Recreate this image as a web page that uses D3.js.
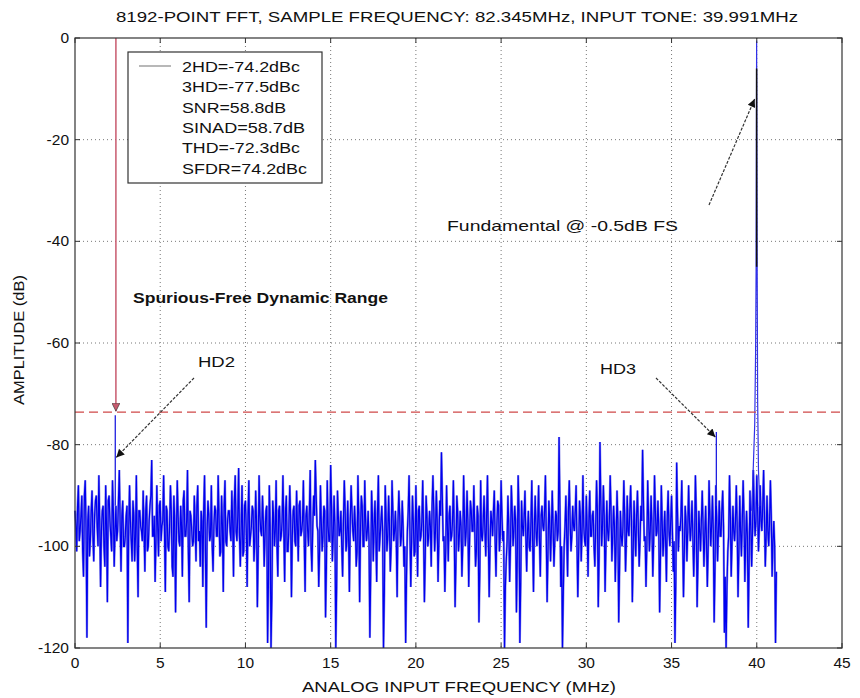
<html>
<head>
  <title>8192-point FFT</title>
  <script src="https://d3js.org/d3.v7.min.js"></script>
  <style>
    body{ margin:0; background:#fff; }
    text{ font-family: "Liberation Sans", Arial, sans-serif; fill:#111; }
    .grid line{ stroke:#777; stroke-dasharray:1,3; }
  </style>
</head>
<body>
<script>
// --- data ---
var xTicks = [0, 5, 10, 15, 20, 25, 30, 35, 40, 45];
var yTicks = [0, -20, -40, -60, -80, -100, -120];

// noise floor, one value every 0.1 MHz from 0.0 to 41.1 MHz (dB)
var noiseStep = 0.1;
var noiseDb = [
  -93,-101,-88,-97,-90,-106,-87,-118,-92,-99,
  -89,-103,-91,-96,-86,-108,-93,-100,-88,-111,
  -90,-98,-87,-104,-92,-97,-85,-105,-91,-100,
  -94,-119,-88,-99,-91,-103,-86,-110,-93,-97,
  -89,-105,-90,-100,-92,-83,-98,-107,-88,-102,
  -91,-96,-86,-109,-93,-101,-88,-104,-90,-113,
  -87,-99,-92,-106,-89,-98,-85,-111,-94,-100,
  -90,-103,-88,-97,-93,-108,-86,-116,-91,-99,
  -88,-105,-92,-98,-86,-102,-90,-109,-87,-100,
  -93,-97,-89,-106,-86,-99,-84.6,-104,-88,-101,
  -91,-108,-87,-98,-92,-103,-89,-112,-86,-97,
  -90,-104,-93,-119,-88,-120,-91,-100,-87,-106,
  -92,-98,-86,-107,-90,-101,-88,-110,-93,-99,
  -89,-103,-91,-97,-87,-109,-92,-100,-85,-105,
  -90,-83,-96,-108,-88,-101,-92,-114,-87,-99,
  -84,-103,-90,-120,-89,-98,-93,-106,-87,-101,
  -91,-109,-88,-97,-92,-104,-86,-111,-90,-100,
  -87,-99,-93,-118,-89,-103,-91,-107,-86,-98,
  -92,-120,-88,-101,-90,-105,-87,-99,-93,-110,
  -89,-100,-91,-104,-119,-97,-86,-108,-90,-102,
  -88,-106,-92,-98,-87,-111,-90,-100,-93,-104,
  -86,-101,-89,-107,-91,-81.5,-99,-109,-88,-103,
  -92,-98,-87,-112,-90,-101,-93,-106,-86,-100,
  -89,-108,-91,-97,-88,-104,-92,-115,-87,-99,
  -90,-102,-86,-110,-93,-98,-89,-106,-91,-101,
  -87,-99,-120,-103,-90,-107,-88,-100,-92,-113,
  -86,-119,-91,-98,-89,-105,-93,-101,-87,-109,
  -90,-100,-88,-106,-92,-97,-86,-111,-91,-103,
  -89,-104,-93,-99,-78.5,-108,-120,-100,-90,-106,
  -87,-101,-92,-97,-88,-110,-91,-103,-86,-99,
  -90,-106,-89,-98,-93,-104,-87,-112,-79.5,-100,
  -88,-109,-91,-99,-86,-103,-92,-107,-89,-115,
  -93,-100,-87,-105,-90,-98,-88,-111,-91,-102,
  -89,-104,-92,-81,-99,-108,-87,-101,-90,-106,
  -86,-98,-91,-113,-88,-102,-93,-107,-89,-100,
  -90,-105,-119,-83.5,-101,-97,-87,-110,-92,-103,
  -88,-99,-91,-106,-86,-112,-93,-101,-89,-104,
  -92,-108,-87,-100,-90,-115,-88,-103,-91,-98,
  -89,-117,-120,-101,-86,-106,-92,-99,-88,-110,
  -90,-102,-87,-107,-93,-116,-89,-104,-85,-98,
  -86,-101,-88,-97,-85,-104,-90,-100,-87,-106,
  -95,-119
];
// the bins in between, at 0.05, 0.15, ... 41.15 MHz (dB)
var noiseMidDb = [
  -96,-92,-99,-94,-101,-90,-97,-95,-102,-93,
  -98,-94,-90,-100,-95,-97,-92,-104,-96,-91,
  -95,-101,-93,-97,-99,-91,-96,-94,-100,-98,
  -92,-97,-95,-103,-94,-98,-100,-93,-96,-99,
  -97,-93,-101,-95,-90,-98,-94,-99,-96,-92,
  -99,-95,-97,-92,-100,-96,-93,-106,-95,-98,
  -94,-100,-96,-91,-98,-95,-101,-93,-97,-99,
  -96,-92,-99,-104,-95,-93,-100,-97,-94,-98,
  -100,-96,-93,-98,-94,-101,-96,-92,-99,-95,
  -93,-99,-95,-91,-97,-94,-98,-96,-102,-92,
  -97,-94,-100,-96,-93,-99,-95,-101,-94,-98,
  -95,-98,-92,-107,-96,-110,-94,-97,-100,-93,
  -99,-95,-97,-93,-101,-96,-94,-98,-92,-100,
  -96,-92,-98,-95,-99,-94,-97,-93,-100,-96,
  -94,-90,-97,-101,-95,-98,-93,-104,-96,-99,
  -92,-98,-96,-108,-94,-97,-100,-95,-93,-99,
  -98,-95,-93,-99,-96,-101,-94,-97,-92,-100,
  -95,-97,-99,-105,-94,-96,-98,-93,-101,-95,
  -97,-109,-94,-98,-96,-100,-93,-97,-99,-95,
  -94,-98,-96,-100,-106,-93,-97,-99,-95,-101,
  -96,-93,-99,-95,-97,-102,-94,-98,-96,-92,
  -93,-97,-95,-99,-94,-90,-98,-101,-96,-94,
  -99,-95,-97,-103,-93,-98,-96,-100,-94,-97,
  -95,-99,-93,-97,-96,-101,-94,-105,-98,-95,
  -97,-94,-98,-100,-95,-93,-99,-96,-92,-98,
  -94,-97,-108,-99,-96,-100,-93,-97,-95,-102,
  -93,-107,-96,-94,-98,-97,-100,-95,-99,-96,
  -97,-95,-99,-94,-96,-93,-98,-101,-95,-97,
  -96,-99,-94,-97,-92,-100,-109,-96,-98,-93,
  -95,-98,-96,-93,-99,-101,-94,-97,-96,-100,
  -97,-95,-98,-94,-100,-96,-93,-102,-91,-96,
  -94,-100,-97,-95,-93,-98,-96,-99,-95,-104,
  -98,-96,-94,-99,-97,-93,-95,-101,-97,-94,
  -96,-99,-95,-91,-98,-100,-94,-97,-96,-99,
  -93,-97,-96,-102,-95,-98,-99,-94,-97,-95,
  -97,-99,-107,-93,-96,-94,-98,-101,-95,-97,
  -95,-96,-98,-99,-93,-103,-97,-95,-96,-98,
  -99,-100,-94,-96,-97,-104,-95,-97,-98,-93,
  -96,-106,-108,-98,-94,-99,-97,-95,-96,-101,
  -97,-95,-94,-99,-98,-103,-96,-97,-93,-95,
  -93,-96,-95,-92,-94,-98,-97,-95,-94,-99,
  -100,-105
];

// harmonics (MHz, dB)
var hdFreq = [2.363, 37.628];
var hdDb = [-74.2, -77.5];

// fundamental and its skirt
var fundFreq = [39.70, 39.80, 39.88, 39.93, 39.96, 39.991, 40.02, 40.05, 40.10, 40.18];
var fundDb = [-93, -84, -76, -62, -46, -0.5, -42, -71, -85, -92];
var fundBlack = [-6, -45];

var sfdrFreq = 2.4;
var sfdrDb = -73.6;

var legendLines = ["2HD=-74.2dBc", "3HD=-77.5dBc", "SNR=58.8dB", "SINAD=58.7dB", "THD=-72.3dBc", "SFDR=74.2dBc"];
var legendWidths = [118, 118, 104, 123, 118, 125];

// --- layout ---
var width = 860, height = 698;
var pL = 75, pR = 842, pT = 38, pB = 648;

var svg = d3.select("body").append("svg")
  .attr("width", width)
  .attr("height", height);

var defs = svg.append("defs");
defs.append("marker").attr("id", "blk")
  .attr("viewBox", "0 0 10 10").attr("refX", 10).attr("refY", 5)
  .attr("markerWidth", 10).attr("markerHeight", 8).attr("markerUnits", "userSpaceOnUse")
  .attr("orient", "auto")
  .append("path").attr("d", "M0,0 L10,5 L0,10 Z").attr("fill", "#111");
defs.append("marker").attr("id", "red")
  .attr("viewBox", "0 0 10 10").attr("refX", 10).attr("refY", 5)
  .attr("markerWidth", 9).attr("markerHeight", 8).attr("markerUnits", "userSpaceOnUse")
  .attr("orient", "auto")
  .append("path").attr("d", "M0,0 L10,5 L0,10 Z").attr("fill", "#c85a6e").attr("stroke", "#333").attr("stroke-width", 0.8);

var x = d3.scaleLinear().domain([0, 45]).range([pL, pR]);
var y = d3.scaleLinear().domain([-120, 0]).range([pB, pT]);

// grid
var grid = svg.append("g").attr("class", "grid");
grid.selectAll(".gx").data(xTicks.slice(1, -1)).enter().append("line")
  .attr("x1", d => x(d)).attr("x2", d => x(d)).attr("y1", pT).attr("y2", pB);
grid.selectAll(".gy").data(yTicks.slice(1, -1)).enter().append("line")
  .attr("x1", pL).attr("x2", pR).attr("y1", d => y(d)).attr("y2", d => y(d));

// noise floor: interleave the two bin sets into one trace
var noise = [];
noiseDb.forEach(function(v, i){
  noise.push([i * noiseStep, v]);
  if (i < noiseMidDb.length) noise.push([i * noiseStep + noiseStep / 2, noiseMidDb[i]]);
});
var line = d3.line().x(d => x(d[0])).y(d => y(d[1]));
svg.append("path").datum(noise)
  .attr("d", line)
  .attr("fill", "none")
  .attr("stroke", "#8a8ae6")
  .attr("stroke-width", 2.2);
svg.append("path").datum(noise)
  .attr("d", line)
  .attr("fill", "none")
  .attr("stroke", "#0000f0")
  .attr("stroke-width", 1.2);

// harmonic spikes
svg.selectAll(".hd").data(hdFreq).enter().append("line")
  .attr("x1", d => x(d)).attr("x2", d => x(d))
  .attr("y1", y(-92)).attr("y2", (d, i) => y(hdDb[i]))
  .attr("stroke", "#2020e0").attr("stroke-width", 1.3);

// fundamental
svg.append("path").datum(fundFreq.map((f, i) => [f, fundDb[i]]))
  .attr("d", line)
  .attr("fill", "none")
  .attr("stroke", "#3030e8")
  .attr("stroke-width", 1.2);
svg.append("line")
  .attr("x1", x(39.991)).attr("x2", x(39.991))
  .attr("y1", y(fundBlack[0])).attr("y2", y(fundBlack[1]))
  .attr("stroke", "#111").attr("stroke-width", 1.5);

// SFDR markers
svg.append("line")
  .attr("x1", pL).attr("x2", pR)
  .attr("y1", y(sfdrDb)).attr("y2", y(sfdrDb))
  .attr("stroke", "#d04848").attr("stroke-width", 1.3)
  .attr("stroke-dasharray", "9,5");
svg.append("line")
  .attr("x1", x(sfdrFreq)).attr("x2", x(sfdrFreq))
  .attr("y1", pT).attr("y2", y(sfdrDb) - 1)
  .attr("stroke", "#c85a6e").attr("stroke-width", 1.5)
  .attr("marker-end", "url(#red)");

// annotation arrows
function arrow(x1, y1, x2, y2){
  svg.append("line")
    .attr("x1", x1).attr("y1", y1).attr("x2", x2).attr("y2", y2)
    .attr("stroke", "#333").attr("stroke-width", 1.2)
    .attr("stroke-dasharray", "3,1.5")
    .attr("marker-end", "url(#blk)");
}
arrow(194, 378, x(2.363) + 1, y(-82.5));
arrow(656, 378, x(37.628) - 1, y(-78.5));
arrow(709, 205, x(39.991) - 2, y(-12));

// box, axes
svg.append("rect")
  .attr("x", pL).attr("y", pT)
  .attr("width", pR - pL).attr("height", pB - pT)
  .attr("fill", "none").attr("stroke", "#333").attr("stroke-width", 1.2);

var ticks = svg.append("g").attr("stroke", "#333");
xTicks.forEach(function(t){
  ticks.append("line").attr("x1", x(t)).attr("x2", x(t)).attr("y1", pB).attr("y2", pB - 5);
  ticks.append("line").attr("x1", x(t)).attr("x2", x(t)).attr("y1", pT).attr("y2", pT + 5);
});
yTicks.forEach(function(t){
  ticks.append("line").attr("x1", pL).attr("x2", pL + 5).attr("y1", y(t)).attr("y2", y(t));
  ticks.append("line").attr("x1", pR).attr("x2", pR - 5).attr("y1", y(t)).attr("y2", y(t));
});

svg.selectAll(".xl").data(xTicks).enter().append("text")
  .attr("x", d => x(d)).attr("y", pB + 20)
  .attr("text-anchor", "middle").attr("font-size", 15.5)
  .text(d => d);
svg.selectAll(".yl").data(yTicks).enter().append("text")
  .attr("x", pL - 6).attr("y", d => y(d) + 5)
  .attr("text-anchor", "end").attr("font-size", 15.5)
  .text(d => d);

// titles
svg.append("text").attr("x", 457).attr("y", 22)
  .attr("text-anchor", "middle").attr("font-size", 15.5)
  .attr("textLength", 682).attr("lengthAdjust", "spacingAndGlyphs")
  .text("8192-POINT FFT, SAMPLE FREQUENCY: 82.345MHz, INPUT TONE: 39.991MHz");
svg.append("text").attr("x", 459).attr("y", 692)
  .attr("text-anchor", "middle").attr("font-size", 15.5)
  .attr("textLength", 314).attr("lengthAdjust", "spacingAndGlyphs")
  .text("ANALOG INPUT FREQUENCY (MHz)");
svg.append("text")
  .attr("transform", "translate(24,340) rotate(-90)")
  .attr("text-anchor", "middle").attr("font-size", 15.5)
  .attr("textLength", 130).attr("lengthAdjust", "spacingAndGlyphs")
  .text("AMPLITUDE (dB)");

// annotations
svg.append("text").attr("x", 133).attr("y", 303)
  .attr("font-size", 15).attr("font-weight", "bold")
  .attr("textLength", 255).attr("lengthAdjust", "spacingAndGlyphs")
  .text("Spurious-Free Dynamic Range");
svg.append("text").attr("x", 198).attr("y", 367).attr("font-size", 15)
  .attr("textLength", 37).attr("lengthAdjust", "spacingAndGlyphs").text("HD2");
svg.append("text").attr("x", 600).attr("y", 374).attr("font-size", 15)
  .attr("textLength", 36).attr("lengthAdjust", "spacingAndGlyphs").text("HD3");
svg.append("text").attr("x", 447).attr("y", 231).attr("font-size", 15)
  .attr("textLength", 231).attr("lengthAdjust", "spacingAndGlyphs")
  .text("Fundamental @ -0.5dB FS");

// legend
var legend = svg.append("g");
legend.append("rect")
  .attr("x", 128).attr("y", 52).attr("width", 194).attr("height", 131)
  .attr("fill", "#fff").attr("stroke", "#333").attr("stroke-width", 1.2);
legend.append("line")
  .attr("x1", 139).attr("x2", 171).attr("y1", 66).attr("y2", 66)
  .attr("stroke", "#888").attr("stroke-width", 1.2);
legend.selectAll("text").data(legendLines).enter().append("text")
  .attr("x", 182).attr("y", (d, i) => 72 + i * 20.3)
  .attr("font-size", 15)
  .attr("textLength", (d, i) => legendWidths[i]).attr("lengthAdjust", "spacingAndGlyphs")
  .text(d => d);
</script>
</body>
</html>
